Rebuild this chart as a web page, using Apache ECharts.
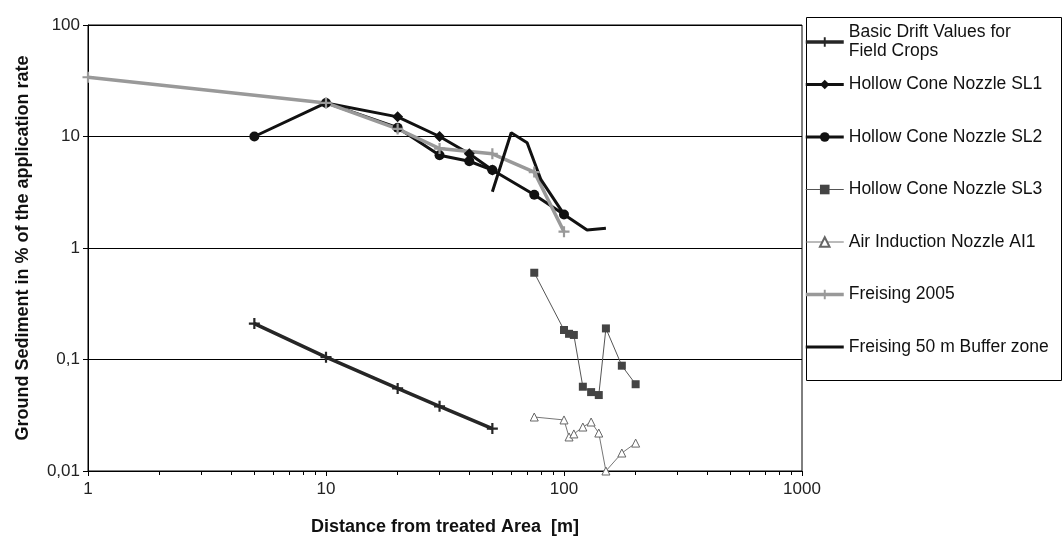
<!DOCTYPE html>
<html><head><meta charset="utf-8">
<script src="https://cdn.jsdelivr.net/npm/echarts@6/dist/echarts.min.js"></script>
<style>html,body{margin:0;padding:0;background:#fff}#c{width:1063px;height:541px}</style>
</head><body><div id="c"></div>
<script>
// ---- data ----
const seriesNames = ['Basic Drift Values for\nField Crops','Hollow Cone Nozzle SL1','Hollow Cone Nozzle SL2','Hollow Cone Nozzle SL3','Air Induction Nozzle AI1','Freising 2005','Freising 50 m Buffer zone'];
const basicX = [5, 10, 20, 30, 50];
const basicY = [0.21, 0.105, 0.055, 0.038, 0.024];
const sl1X = [10, 20, 30, 40, 50];
const sl1Y = [20, 15, 10, 7, 5];
const sl2X = [5, 10, 20, 30, 40, 50, 75, 100];
const sl2Y = [10, 20, 12, 6.8, 6, 5, 3, 2];
const sl3X = [75, 100, 105, 110, 120, 130, 140, 150, 175, 200];
const sl3Y = [0.6, 0.184, 0.17, 0.166, 0.057, 0.051, 0.048, 0.19, 0.088, 0.06];
const ai1X = [75, 100, 105, 110, 120, 130, 140, 150, 175, 200];
const ai1Y = [0.0305, 0.0287, 0.0202, 0.0215, 0.0248, 0.0275, 0.0219, 0.01, 0.0145, 0.0178];
const fr05X = [1, 10, 20, 30, 50, 75, 100];
const fr05Y = [34, 20, 11.7, 7.8, 7, 4.8, 1.4];
const bufX = [50, 60, 70, 80, 100, 125, 150];
const bufY = [3.2, 10.8, 8.8, 4.1, 2.0, 1.45, 1.5];
const xMin = 1, xMax = 1000;
const yMin = 0.01, yMax = 100;

// ---- helpers ----
const pairs = (xs, ys) => xs.map((x, i) => [x, ys[i]]);
const PLUS = 'path://M4,0h2v4h4v2h-4v4h-2v-4h-4v-2h4z';
const fmt = v => String(+(+v).toPrecision(6)).replace('.', ',');
const FONT = '"Liberation Sans", Arial, sans-serif';
const legendText = {fontSize: 17.5, lineHeight: 19, color: '#111', fontFamily: FONT};
const legend2Data = seriesNames.slice(1).map((n, i, arr) =>
  i === arr.length - 1 ? {name: n, itemStyle: {color: 'rgba(0,0,0,0)', borderWidth: 0}} : n);

const chart = echarts.init(document.getElementById('c'), null, {renderer: 'canvas'});
chart.setOption({
  backgroundColor: '#fff',
  animation: false,
  textStyle: {fontFamily: FONT},
  grid: {left: 88, right: 261, top: 25, bottom: 70, show: true, borderColor: '#000', borderWidth: 1, containLabel: false},
  xAxis: {
    type: 'log', logBase: 10, min: xMin, max: xMax,
    name: 'Distance from treated Area  [m]', nameLocation: 'middle', nameGap: 47,
    nameTextStyle: {fontFamily: FONT, fontSize: 18, fontWeight: 'bold', color: '#111'},
    axisLine: {show: true, lineStyle: {color: '#000', width: 1}},
    axisTick: {show: true, inside: false, length: 5, lineStyle: {color: '#000'}},
    minorTick: {show: true, splitNumber: 9, length: 4, lineStyle: {color: '#000'}},
    axisLabel: {margin: 10, fontSize: 17, color: '#222', fontFamily: FONT, formatter: fmt},
    splitLine: {show: false}
  },
  yAxis: {
    type: 'log', logBase: 10, min: yMin, max: yMax,
    name: 'Ground Sediment in % of the application rate', nameLocation: 'middle', nameGap: 56,
    nameTextStyle: {fontFamily: FONT, fontSize: 18, fontWeight: 'bold', color: '#111'},
    axisLine: {show: true, lineStyle: {color: '#000', width: 1}},
    axisTick: {show: true, length: 5, lineStyle: {color: '#000'}},
    axisLabel: {margin: 8, fontSize: 17, color: '#222', fontFamily: FONT, formatter: fmt},
    splitLine: {show: true, lineStyle: {color: '#000', width: 1}}
  },
  legend: [
    {data: [seriesNames[0]], orient: 'vertical', left: 804, top: 23, padding: 0, itemWidth: 38, itemHeight: 12,
     lineStyle: {width: 'inherit'}, textStyle: legendText},
    {data: legend2Data, orient: 'vertical', left: 804, top: 75, padding: 0, itemGap: 33.5, itemWidth: 38, itemHeight: 12,
     lineStyle: {width: 'inherit'}, textStyle: legendText}
  ],
  graphic: [{type: 'rect', left: 804, top: 15, shape: {width: 255, height: 363}, style: {fill: 'none', stroke: '#000', lineWidth: 1}, silent: true}],
  series: [
    {name: seriesNames[0], type: 'line', data: pairs(basicX, basicY), symbol: PLUS, symbolSize: 11,
     lineStyle: {color: '#262626', width: 3.5}, itemStyle: {color: '#262626'}},
    {name: seriesNames[1], type: 'line', data: pairs(sl1X, sl1Y), symbol: 'diamond', symbolSize: 11,
     lineStyle: {color: '#111', width: 3}, itemStyle: {color: '#111'}},
    {name: seriesNames[2], type: 'line', data: pairs(sl2X, sl2Y), symbol: 'circle', symbolSize: 10,
     lineStyle: {color: '#111', width: 3}, itemStyle: {color: '#111'}},
    {name: seriesNames[3], type: 'line', data: pairs(sl3X, sl3Y), symbol: 'rect', symbolSize: 8,
     lineStyle: {color: '#555', width: 1}, itemStyle: {color: '#444'}},
    {name: seriesNames[4], type: 'line', data: pairs(ai1X, ai1Y), symbol: 'triangle', symbolSize: 8, clip: false,
     lineStyle: {color: '#777', width: 1}, itemStyle: {color: '#fff', borderColor: '#666', borderWidth: 1}},
    {name: seriesNames[5], type: 'line', data: pairs(fr05X, fr05Y), symbol: PLUS, symbolSize: 11,
     lineStyle: {color: '#999', width: 3.5}, itemStyle: {color: '#999'}},
    {name: seriesNames[6], type: 'line', data: pairs(bufX, bufY), symbol: 'none',
     lineStyle: {color: '#111', width: 3}, itemStyle: {color: '#111'}}
  ]
});
</script></body></html>
